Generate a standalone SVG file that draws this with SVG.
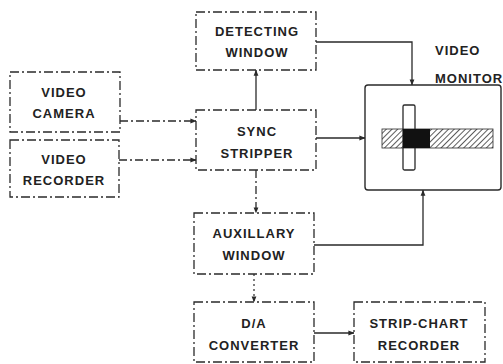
<svg xmlns="http://www.w3.org/2000/svg" width="503" height="364" viewBox="0 0 503 364">
<defs>
<style>
.box{fill:none;stroke:#2a2a2a;stroke-width:1.3;stroke-dasharray:9 3 2 3}
.solid{fill:none;stroke:#2a2a2a;stroke-width:1.4}
.ln{fill:none;stroke:#2a2a2a;stroke-width:1.3}
.dl{fill:none;stroke:#2a2a2a;stroke-width:1.3;stroke-dasharray:8 3 2 3}
.dt{fill:none;stroke:#2a2a2a;stroke-width:1.2;stroke-dasharray:2 3}
text{font-family:"Liberation Sans",Arial,sans-serif;font-weight:bold;font-size:13px;fill:#222;text-anchor:middle;letter-spacing:1px}
.lab{text-anchor:start}
</style>
<marker id="ah" viewBox="0 0 8 8" refX="7.5" refY="4" markerWidth="6" markerHeight="6" orient="auto" markerUnits="userSpaceOnUse">
<path d="M0,0.8 L8,4 L0,7.2 Z" fill="#2a2a2a"/>
</marker>
<pattern id="hatch" width="4" height="4" patternUnits="userSpaceOnUse" patternTransform="rotate(45)">
<line x1="0" y1="0" x2="0" y2="4" stroke="#333" stroke-width="1.6"/>
</pattern>
</defs>
<rect width="503" height="364" fill="#fff"/>

<g id="detecting-window">
<rect class="box" x="196" y="12" width="120" height="58"/>
<text x="257" y="36">DETECTING</text>
<text x="257" y="57">WINDOW</text>
</g>
<g id="video-camera">
<rect class="box" x="10" y="72" width="110" height="60"/>
<text x="64" y="97">VIDEO</text>
<text x="64" y="118">CAMERA</text>
</g>
<g id="video-recorder">
<rect class="box" x="10" y="140" width="109" height="57"/>
<text x="64" y="164">VIDEO</text>
<text x="64" y="185">RECORDER</text>
</g>
<g id="sync-stripper">
<rect class="box" x="196" y="110" width="120" height="60"/>
<text x="257" y="136">SYNC</text>
<text x="257" y="158">STRIPPER</text>
</g>
<g id="video-monitor">
<text class="lab" x="435" y="55">VIDEO</text>
<text class="lab" x="435" y="83">MONITOR</text>
<rect class="solid" x="365" y="85" width="136" height="105" rx="3"/>
<rect x="382" y="129" width="111" height="19" fill="url(#hatch)" stroke="#2a2a2a" stroke-width="0.8"/>
<rect class="ln" x="403" y="105" width="12" height="65" rx="1.5"/>
<rect x="403" y="129" width="27" height="19" fill="#111"/>
</g>
<g id="auxillary-window">
<rect class="box" x="194" y="213" width="120" height="61"/>
<text x="254" y="238">AUXILLARY</text>
<text x="254" y="260">WINDOW</text>
</g>
<g id="da-converter">
<rect class="box" x="194" y="302" width="120" height="60"/>
<text x="254" y="328">D/A</text>
<text x="254" y="350">CONVERTER</text>
</g>
<g id="strip-chart-recorder">
<rect class="box" x="354" y="302" width="131" height="60"/>
<text x="419" y="328">STRIP-CHART</text>
<text x="419" y="350">RECORDER</text>
</g>

<g id="connectors">
<path class="ln" d="M316,42 H412 V85" marker-end="url(#ah)"/>
<path class="ln" d="M256,110 V70" marker-end="url(#ah)"/>
<path class="dl" d="M120,121 H196" marker-end="url(#ah)"/>
<path class="dl" d="M119,160 H196" marker-end="url(#ah)"/>
<path class="ln" d="M316,138 H365" marker-end="url(#ah)"/>
<path class="dl" d="M256,170 V213" marker-end="url(#ah)"/>
<path class="ln" d="M314,245 H423 V190" marker-end="url(#ah)"/>
<path class="dt" d="M254,274 V302" marker-end="url(#ah)"/>
<path class="ln" d="M314,333 H354" marker-end="url(#ah)"/>
</g>
</svg>
